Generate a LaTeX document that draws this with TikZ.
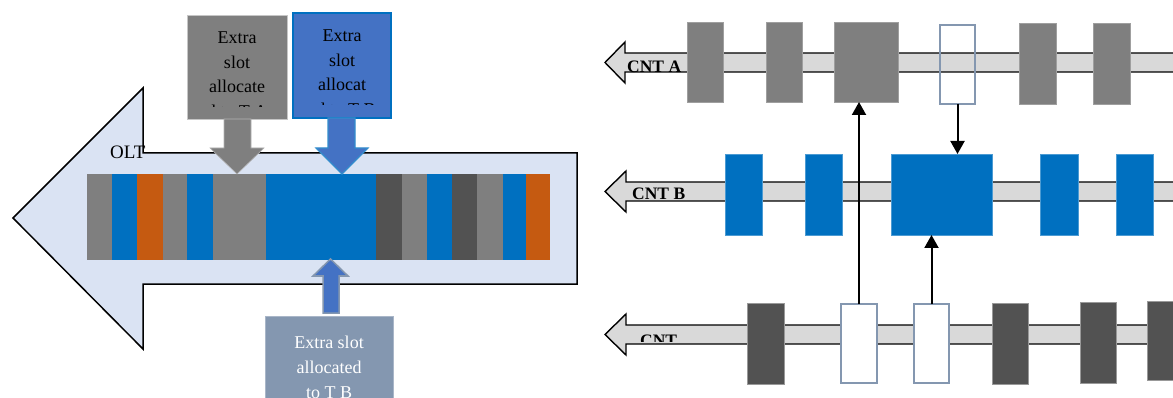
\documentclass[tikz,border=0pt]{standalone}
\usepackage{fontspec}
\setmainfont{Liberation Serif}
\usetikzlibrary{arrows.meta}
\definecolor{olbg}{HTML}{DAE3F3}
\definecolor{sgray}{HTML}{7F7F7F}
\definecolor{sblue}{HTML}{0070C0}
\definecolor{sorange}{HTML}{C55A11}
\definecolor{sdark}{HTML}{525252}
\definecolor{cblue}{HTML}{4472C4}
\definecolor{cbot}{HTML}{8497B0}
\definecolor{shaftgray}{HTML}{D9D9D9}
\newcommand\blk[6]{\node[#1,anchor=north west,minimum width={(#4-#3)*1pt},minimum height={(#6-#5)*1pt}] (#2) at (#3,#5) {};}
\begin{document}
\begin{tikzpicture}[x=1pt,y=-1pt,
  bigarrow/.style={fill=olbg,draw=black,line width=1.5pt,line join=miter},
  shaftst/.style={fill=shaftgray,draw=black,line width=1.4pt,line join=miter},
  slotbase/.style={inner sep=0pt,outer sep=0pt},
  slotA/.style={slotbase,fill=sgray,draw=gray!75,line width=0.6pt},
  slotB/.style={slotbase,fill=sblue,draw=sblue!70,line width=0.6pt},
  slotC/.style={slotbase,fill=sdark,draw=gray!80,line width=0.6pt},
  emptyA/.style={slotbase,draw=cbot,line width=2pt},
  emptyC/.style={slotbase,fill=white,draw=cbot,line width=2pt},
  conn/.style={draw=black,line width=2pt,-{Triangle[width=14pt,length=13pt]}},
  calltext/.style={font=\fontsize{18}{24.5}\selectfont,align=center,inner sep=0pt},
  cntlabel/.style={font=\fontsize{17.5}{20}\selectfont\bfseries,inner sep=0pt,anchor=base west}
]
\useasboundingbox (0,0) rectangle (1173,398);

% ---------------- left: OLT frame ----------------
\draw[bigarrow] (13,218) -- (143,88) -- (143,153) -- (577,153) -- (577,284) -- (143,284) -- (143,349) -- cycle;
\node[font=\fontsize{19}{22}\selectfont,inner sep=0pt,anchor=base west] (olt) at (110,159) {OLT};

% stripes
\fill[sgray]   (87,174) rectangle (112,260);
\fill[sblue]   (112,174) rectangle (137,260);
\fill[sorange] (137,174) rectangle (163,260);
\fill[sgray]   (163,174) rectangle (187,260);
\fill[sblue]   (187,174) rectangle (213,260);
\fill[sgray]   (213,174) rectangle (266,260);
\fill[sblue]   (266,174) rectangle (376,260);
\fill[sdark]   (376,174) rectangle (402,260);
\fill[sgray]   (402,174) rectangle (427,260);
\fill[sblue]   (427,174) rectangle (452,260);
\fill[sdark]   (452,174) rectangle (477,260);
\fill[sgray]   (477,174) rectangle (503,260);
\fill[sblue]   (503,174) rectangle (526,260);
\fill[sorange] (526,174) rectangle (550,260);

% gray callout
\blk{slotbase,fill=sgray,draw=gray!45,line width=0.8pt}{calla}{187}{287}{15}{119}
\fill[sgray,draw=gray!60,line width=0.6pt] (224,119) -- (251,119) -- (251,148) -- (264,148) -- (237,174) -- (210,148) -- (224,148) -- cycle;
\begin{scope}
  \clip (189,17) rectangle (285,107);
  \node[calltext,anchor=north] at (237,32) {Extra\\slot\\allocate\\d to T A};
\end{scope}

% blue callout
\blk{slotbase,fill=cblue,draw=sblue,line width=1.5pt}{callb}{293}{391}{13}{118}
\fill[cblue,draw=sblue!80,line width=1.2pt] (328,118) -- (355,118) -- (355,148) -- (368,148) -- (342,174) -- (316,148) -- (328,148) -- cycle;
\begin{scope}
  \clip (295,15) rectangle (389,105);
  \node[calltext,anchor=north] at (342,30) {Extra\\slot\\allocat\\ed to T B};
\end{scope}

% bottom callout
\fill[cblue,draw=cbot,line width=1.5pt] (323,313) -- (339,313) -- (339,276) -- (348,276) -- (330.5,259) -- (313,276) -- (323,276) -- cycle;
\blk{slotbase,fill=cbot,draw=cbot!70,line width=0.8pt}{callc}{265}{393}{316}{410}
\node[calltext,anchor=north,text=white,font=\fontsize{18}{25}\selectfont] at (329,336) {Extra slot\\allocated\\to T B};

% ---------------- right: CNT rows ----------------
\draw[shaftst] (1185,53) -- (625,53) -- (625,42) -- (605,62.5) -- (625,83) -- (625,72) -- (1185,72) -- cycle;
\draw[shaftst] (1185,182) -- (626,182) -- (626,171) -- (605,191.5) -- (626,212) -- (626,201) -- (1185,201) -- cycle;
\draw[shaftst] (1185,325) -- (626,325) -- (626,314) -- (605,334.5) -- (626,355) -- (626,344) -- (1185,344) -- cycle;

\node[cntlabel] (la) at (627,73) {CNT A};
\node[cntlabel] (lb) at (632,200) {CNT B};
\begin{scope}
  \clip (630,320) rectangle (700,341);
  \node[cntlabel] (lc) at (640,346) {CNT};
\end{scope}

% CNT A slots
\blk{slotA}{a1}{687}{723}{22}{102}
\blk{slotA}{a2}{766}{802}{22}{102}
\blk{slotA}{a3}{834}{898}{22}{102}
\blk{emptyA}{a4}{940}{975}{25}{104}
\blk{slotA}{a5}{1019}{1056}{23}{104}
\blk{slotA}{a6}{1093}{1130}{23}{104}

% CNT B slots
\blk{slotB}{b1}{725}{762}{154}{235}
\blk{slotB}{b2}{805}{842}{154}{235}
\blk{slotB}{b3}{891}{992}{154}{235}
\blk{slotB}{b4}{1040}{1078}{154}{235}
\blk{slotB}{b5}{1116}{1153}{154}{235}

% CNT C slots
\blk{slotC}{c1}{747}{784}{303}{384}
\blk{emptyC}{c2}{841}{877}{304}{383}
\blk{emptyC}{c3}{914}{949}{304}{383}
\blk{slotC}{c4}{992}{1028}{303}{384}
\blk{slotC}{c5}{1080}{1116}{302}{383}
\blk{slotC}{c6}{1147}{1190}{301}{380}

% connectors
\draw[conn] (c2.north) -- (c2.north |- a3.south);
\draw[conn] (a4.south) -- (a4.south |- b3.north);
\draw[conn] (c3.north) -- (c3.north |- b3.south);
\end{tikzpicture}
\end{document}
